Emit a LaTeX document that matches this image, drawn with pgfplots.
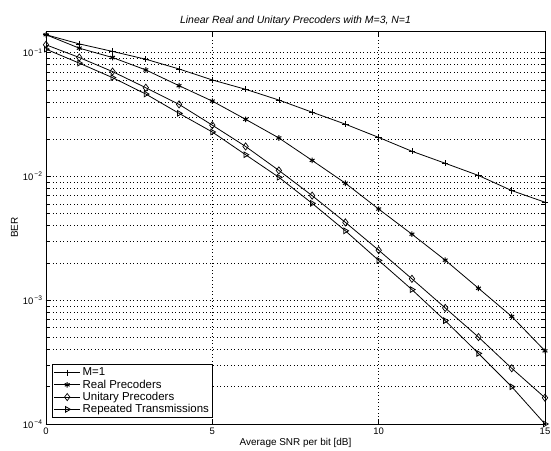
\documentclass[border=0pt]{standalone}
\usepackage{fontspec}
\setmainfont{Liberation Sans}
\usepackage{pgfplots}
\pgfplotsset{compat=1.18}
\begin{document}
\begin{tikzpicture}
\begin{axis}[
  scale only axis,
  width=499bp, height=393bp,
  xmin=0, xmax=15,
  ymode=log, ymin=1e-4, ymax=0.15,
  xtick={0,5,10,15},
  xticklabels={0,5,10,15},
  ytick={1e-4,1e-3,1e-2,1e-1},
  yticklabels={10\textsuperscript{\,\textminus4},10\textsuperscript{\,\textminus3},10\textsuperscript{\,\textminus2},10\textsuperscript{\,\textminus1}},
  tick align=inside,
  major tick length=5bp, minor tick length=3bp,
  xmajorgrids, ymajorgrids, yminorgrids,
  major grid style={black, line width=0.6pt, dash pattern=on 0.7pt off 2.8pt},
  minor grid style={black, line width=0.6pt, dash pattern=on 0.7pt off 2.8pt},
  axis line style={line width=0.9pt},
  tick style={black, line width=0.7pt},
  tick label style={font=\fontsize{9.5}{10}\selectfont},
  title={\itshape Linear Real and Unitary Precoders with M=3, N=1},
  title style={font=\fontsize{10.5}{11}\selectfont, yshift=-4bp},
  xlabel={Average SNR per bit [dB]},
  ylabel={BER},
  xlabel style={font=\fontsize{10}{11}\selectfont, yshift=3bp},
  ylabel style={font=\fontsize{10}{11}\selectfont, yshift=-2bp},
  legend style={at={(0.012,0.015)}, anchor=south west, font=\fontsize{11.5}{12}\selectfont, draw=black, line width=0.7pt, inner sep=1.5pt, row sep=-1.5pt, cells={anchor=west}},
  legend cell align=left,
  legend image code/.code={\draw[mark repeat=2,mark phase=2] plot coordinates {(0bp,0bp)(13bp,0bp)(26bp,0bp)};},
  every axis plot/.append style={black, line width=0.8pt, mark size=3.2bp, mark options={solid, line width=0.7pt}},
]
\addplot[mark=+] coordinates {
(0,0.14) (1,0.118) (2,0.1026) (3,0.0887) (4,0.074) (5,0.0603) (6,0.0507) (7,0.0415)
(8,0.0331) (9,0.0265) (10,0.0207) (11,0.016) (12,0.0128) (13,0.0102) (14,0.0077) (15,0.0062)};
\addlegendentry{M=1}
\addplot[mark=asterisk, mark size=2.8bp, mark options={line width=1pt}] coordinates {
(0,0.14) (1,0.109) (2,0.0916) (3,0.0727) (4,0.0542) (5,0.0407) (6,0.029) (7,0.0205)
(8,0.0135) (9,0.00883) (10,0.00546) (11,0.00342) (12,0.00211) (13,0.00125) (14,0.00074) (15,0.00039)};
\addlegendentry{Real Precoders}
\addplot[mark=diamond, mark size=3.6bp] coordinates {
(0,0.116) (1,0.0916) (2,0.0705) (3,0.0522) (4,0.0383) (5,0.026) (6,0.0175) (7,0.0112)
(8,0.00701) (9,0.00426) (10,0.00254) (11,0.00149) (12,0.000867) (13,0.000504) (14,0.000282) (15,0.000163)};
\addlegendentry{Unitary Precoders}
\addplot[mark=triangle, mark options={rotate=-90}] coordinates {
(0,0.107) (1,0.0825) (2,0.063) (3,0.0464) (4,0.0324) (5,0.0229) (6,0.015) (7,0.00986)
(8,0.00607) (9,0.00364) (10,0.0021) (11,0.00122) (12,0.000684) (13,0.000372) (14,0.0002) (15,0.0001)};
\addlegendentry{Repeated Transmissions}
\end{axis}
\pgfresetboundingbox
\useasboundingbox ([xshift=-46bp,yshift=-27bp]current axis.south west) rectangle ([xshift=6bp,yshift=31bp]current axis.north east);
\end{tikzpicture}
\end{document}
